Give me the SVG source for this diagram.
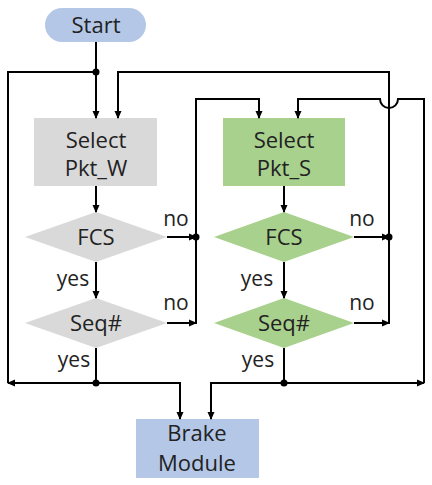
<svg xmlns="http://www.w3.org/2000/svg" width="432" height="485" viewBox="0 0 432 485">
<defs>
<marker id="ah" markerWidth="8" markerHeight="8" refX="7" refY="4" orient="auto" markerUnits="userSpaceOnUse">
<path d="M0,0.5 L8,4 L0,7.5 Z" fill="#000"/>
</marker>
<style>
.t{font-family:"Open Sans","Noto Sans","DejaVu Sans",sans-serif;font-size:22px;fill:#222;text-anchor:middle}
.l{font-family:"Open Sans","Noto Sans","DejaVu Sans",sans-serif;font-size:21px;fill:#222;text-anchor:middle}
.c{fill:none;stroke:#000;stroke-width:2}
.a{marker-end:url(#ah)}
.gray{fill:#d9d9d9}
.green{fill:#a9d18e}
.blue{fill:#b4c7e7}
</style>
</defs>
<g id="start"><rect class="blue" x="45" y="8" width="101" height="34" rx="17"/><text class="t" x="96" y="33">Start</text></g>
<g id="selW"><rect class="gray" x="34" y="118" width="123" height="68"/><text class="t" x="96" y="148">Select</text><text class="t" x="96" y="176">Pkt_W</text></g>
<g id="fcsW"><polygon class="gray" points="25,237 96,212 167,237 96,262"/><text class="t" x="96" y="245">FCS</text></g>
<g id="seqW"><polygon class="gray" points="25,323 96,298 167,323 96,348"/><text class="t" x="96" y="331">Seq#</text></g>
<g id="selS"><rect class="green" x="223" y="118" width="122" height="68"/><text class="t" x="284" y="148">Select</text><text class="t" x="284" y="176">Pkt_S</text></g>
<g id="fcsS"><polygon class="green" points="214,237 284,212 354,237 284,262"/><text class="t" x="284" y="245">FCS</text></g>
<g id="seqS"><polygon class="green" points="214,323 284,298 354,323 284,348"/><text class="t" x="284" y="331">Seq#</text></g>
<g id="brake"><rect class="blue" x="136" y="419" width="123" height="59"/><text class="t" x="197" y="441">Brake</text><text class="t" x="197" y="471">Module</text></g>
<g id="connectors">
<path class="c a" d="M96,42 V118"/>
<path class="c a" d="M96,186 V212"/>
<path class="c a" d="M96,262 V298"/>
<path class="c" d="M96,348 V383"/>
<path class="c a" d="M96,383 H8"/>
<path class="c" d="M8,383 V72 H96"/>
<path class="c a" d="M96,383 H180 V419"/>
<path class="c a" d="M167,237 H196"/>
<path class="c a" d="M167,323 H196"/>
<path class="c a" d="M196,324 V99 H259 V118"/>
<path class="c a" d="M389,324 V72 H118 V118"/>
<path class="c a" d="M354,237 H389"/>
<path class="c a" d="M354,323 H389"/>
<path class="c a" d="M284,186 V212"/>
<path class="c a" d="M284,262 V298"/>
<path class="c" d="M284,348 V383"/>
<path class="c a" d="M284,383 H211 V419"/>
<path class="c a" d="M284,383 H424"/>
<path class="c a" d="M424,383 V99 H398 A9,9 0 0 1 380,99 H298 V118"/>
<circle cx="96" cy="72" r="3.5"/>
<circle cx="96" cy="383" r="3.5"/>
<circle cx="196" cy="237" r="3.5"/>
<circle cx="389" cy="237" r="3.5"/>
<circle cx="284" cy="383" r="3.5"/>
<text class="l" x="176" y="226">no</text>
<text class="l" x="176" y="310">no</text>
<text class="l" x="362" y="226">no</text>
<text class="l" x="362" y="310">no</text>
<text class="l" x="73" y="286">yes</text>
<text class="l" x="74" y="367">yes</text>
<text class="l" x="257" y="286">yes</text>
<text class="l" x="258" y="367">yes</text>
</g>
</svg>
